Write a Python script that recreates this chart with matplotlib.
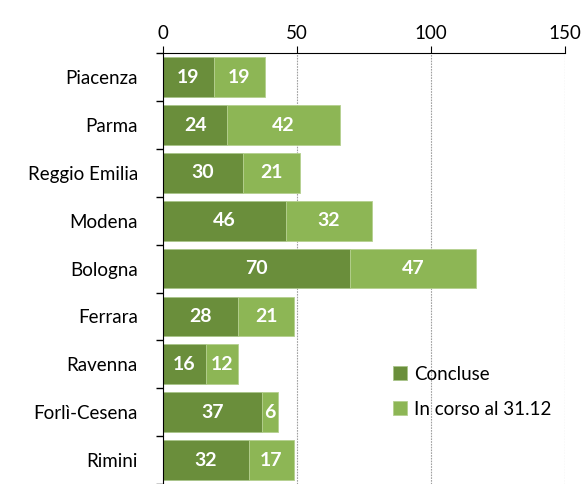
import matplotlib.pyplot as plt
import matplotlib

plt.rcParams['font.family'] = ['Lato', 'DejaVu Sans']

province = ['Piacenza', 'Parma', 'Reggio Emilia', 'Modena', 'Bologna',
            'Ferrara', 'Ravenna', 'Forlì-Cesena', 'Rimini']
concluse = [19, 24, 30, 46, 70, 28, 16, 37, 32]
in_corso = [19, 42, 21, 32, 47, 21, 12, 6, 17]

c_dark = '#6A8E3B'
c_light = '#8DB655'

fig = plt.figure(figsize=(5.84, 4.84), dpi=100)
ax = fig.add_axes([0.279, 0.0, 0.688, 0.89])

y = list(range(len(province)))
b1 = ax.barh(y, concluse, height=0.83, color=c_dark, edgecolor='#a9c48a', linewidth=0.6,
             label='Concluse')
b2 = ax.barh(y, in_corso, left=concluse, height=0.83, color=c_light, edgecolor='#b5d08f',
             linewidth=0.6, label='In corso al 31.12')
for bars in (b1, b2):
    ax.bar_label(bars, label_type='center', color='white', fontweight='bold', fontsize=14)

ax.set_xlim(0, 150)
ax.set_ylim(len(province) - 0.5, -0.5)
ax.set_yticks(y)
ax.set_yticklabels(province, fontsize=13.5)
ax.set_yticks([i + 0.5 for i in range(-1, len(province))], minor=True)
ax.tick_params(axis='y', which='major', length=0, pad=18)
ax.tick_params(axis='y', which='minor', length=5, width=1)
ax.xaxis.tick_top()
ax.set_xticks([0, 50, 100, 150])
ax.tick_params(axis='x', labelsize=13.5, length=5, pad=3)
ax.grid(axis='x', color='#a0a0a0', linestyle=(0, (1.5, 1)), linewidth=0.8)
ax.set_axisbelow(True)
for s in ('right', 'bottom'):
    ax.spines[s].set_visible(False)

ax.legend(loc='lower left', bbox_to_anchor=(0.53, 0.115), frameon=False, fontsize=13.5,
          handlelength=0.75, handleheight=0.75, handletextpad=0.4, labelspacing=0.95)

fig.savefig('out.png', dpi=100)
